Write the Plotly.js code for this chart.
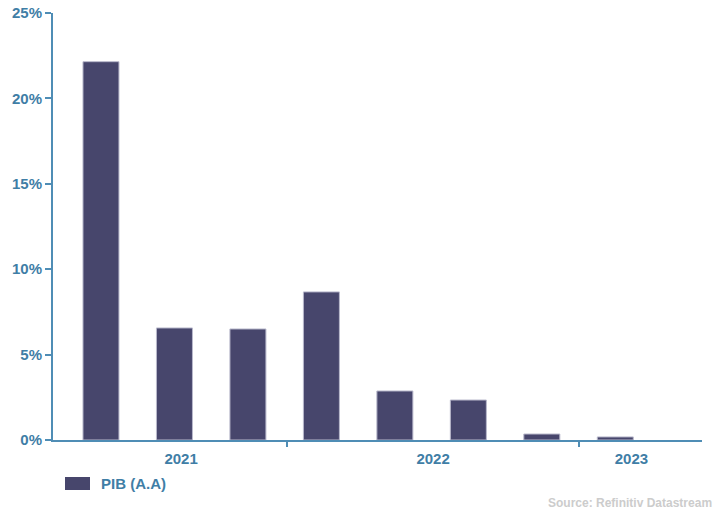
<!DOCTYPE html>
<html>
<head>
<meta charset="utf-8">
<script src="https://cdn.plot.ly/plotly-3.0.1.min.js"></script>
<style>html,body{margin:0;padding:0;background:#fff}#chart{width:718px;height:509px}</style>
</head>
<body>
<div id="chart"></div>
<script>
// Quarterly GDP year-over-year growth (%), Q2 2021 .. Q1 2023
var quarters = ["T2 2021","T3 2021","T4 2021","T1 2022","T2 2022","T3 2022","T4 2022","T1 2023"];
var pib = [22.15, 6.56, 6.5, 8.67, 2.87, 2.34, 0.35, 0.18];
var yearLabels = ["2021","2022","2023"];
var seriesName = "PIB (A.A)";
var sourceText = "Source: Refinitiv Datastream";

var axisColor = "#4f8db5";
var textColor = "#3f7ea6";
var barColor = "#47466c";

var xIdx = quarters.map(function(q,i){return i;});
var yearPos = [1.09, 4.52, 7.22];
var sepPos = [2.53, 6.5];
var xr = [-0.653, 8.18];

var trace = {
  type: "bar",
  x: xIdx,
  y: pib,
  name: seriesName,
  width: 0.49,
  marker: {color: barColor, line: {color: "#b9b9cc", width: 1}},
  showlegend: false,
  hovertext: quarters
};
var dummy = {type:"scatter", x:[0], y:[0], xaxis:"x2", mode:"markers", marker:{opacity:0}, showlegend:false, hoverinfo:"skip"};

var layout = {
  width: 718, height: 509,
  margin: {l:53, r:16, t:13, b:69},
  paper_bgcolor: "#fff", plot_bgcolor: "#fff",
  font: {family: "Liberation Sans, Arial, sans-serif", color: textColor},
  xaxis: {
    range: xr, showgrid:false, zeroline:false,
    showline:true, linecolor: axisColor, linewidth: 2,
    tickvals: yearPos, ticktext: yearLabels, ticks: "",
    ticklabelstandoff: 4,
    tickfont: {size:15, color:textColor, family:"Liberation Sans, Arial, sans-serif", weight:"bold"}
  },
  xaxis2: {
    overlaying: "x", side: "bottom", range: xr, showgrid:false, zeroline:false,
    showline:false, tickvals: sepPos, ticks:"outside", ticklen:6, tickwidth:2, tickcolor: axisColor,
    showticklabels:false
  },
  yaxis: {
    range: [0, 25], dtick: 5, tick0: 0, showgrid:false, zeroline:false,
    showline:true, linecolor: axisColor, linewidth: 2,
    ticks:"outside", ticklen:6, tickwidth:2, tickcolor: axisColor,
    ticksuffix:"%",
    tickfont: {size:15, color:textColor, family:"Liberation Sans, Arial, sans-serif", weight:"bold"}
  },
  shapes: [
    {type:"rect", xref:"paper", yref:"paper", x0:12/649, x1:37/649, y0:-(477-440)/427, y1:-(490-440)/427,
     fillcolor: barColor, line:{width:0}}
  ],
  annotations: [
    {xref:"paper", yref:"paper", x:46/649, y:-(483.5-440)/427, xanchor:"left", yanchor:"middle", showarrow:false,
     text: seriesName, font:{size:15, color:textColor, weight:"bold"}},
    {xref:"paper", yref:"paper", x:(714-53)/649, y:-(503-440)/427, xanchor:"right", yanchor:"middle", showarrow:false,
     text: sourceText, font:{size:12, color:"#cccccc", weight:"bold"}}
  ],
  bargap: 0.5
};
Plotly.newPlot("chart", [trace, dummy], layout, {displayModeBar:false, staticPlot:true});
</script>
</body>
</html>
